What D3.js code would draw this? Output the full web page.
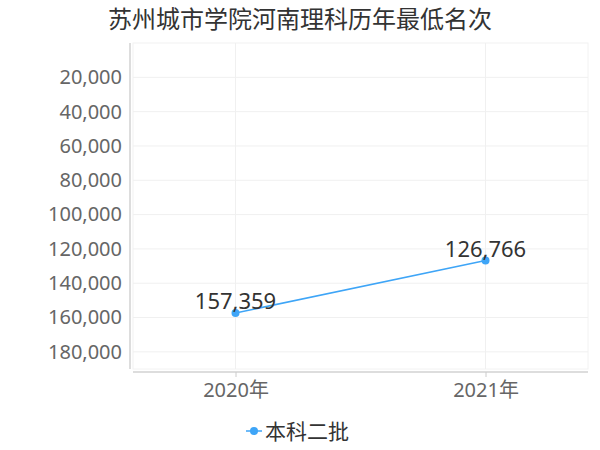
<!DOCTYPE html>
<html>
<head>
<meta charset="utf-8">
<script src="https://cdn.jsdelivr.net/npm/d3@7"></script>
<style>
  body { margin: 0; background: #fff; }
  text { font-family: "Noto Sans", "Noto Sans CJK SC", sans-serif; }
</style>
</head>
<body>
<div id="container"></div>
<script>
// data
const years = ["2020年", "2021年"];
const rank = [157359, 126766];
const seriesName = "本科二批";
const yTicks = [20000, 40000, 60000, 80000, 100000, 120000, 140000, 160000, 180000];

const width = 600;
const height = 450;
const marginTop = 43;
const marginBottom = 81;
const marginLeft = 133;
const marginRight = 12;
const lineColor = "#3ea5f7";

const svg = d3.create("svg")
    .attr("width", width)
    .attr("height", height);

// title
svg.append("text")
    .attr("x", width / 2)
    .attr("y", 28)
    .attr("text-anchor", "middle")
    .style("font-size", "24px")
    .style("font-family", "'Noto Sans CJK SC', sans-serif")
    .attr("fill", "#333")
    .text("苏州城市学院河南理科历年最低名次");

// scales (y inverted: lower rank at top)
const x = d3.scalePoint()
    .domain(years)
    .range([marginLeft, width - marginRight])
    .padding(0.41);

const y = d3.scaleLinear()
    .domain([0, 190000])
    .range([marginTop, height - marginBottom]);

// plot border + grid
svg.append("rect")
    .attr("x", marginLeft)
    .attr("y", marginTop)
    .attr("width", width - marginRight - marginLeft)
    .attr("height", height - marginBottom - marginTop)
    .attr("fill", "none")
    .attr("stroke", "#f2f2f2");

svg.append("g")
    .selectAll("line")
    .data(yTicks)
    .join("line")
    .attr("x1", marginLeft)
    .attr("x2", width - marginRight)
    .attr("y1", d => y(d))
    .attr("y2", d => y(d))
    .attr("stroke", "#f0f0f0");

svg.append("g")
    .selectAll("line")
    .data(years)
    .join("line")
    .attr("x1", d => x(d))
    .attr("x2", d => x(d))
    .attr("y1", marginTop)
    .attr("y2", height - marginBottom)
    .attr("stroke", "#f0f0f0");

// y axis
const yAxis = svg.append("g")
    .attr("transform", `translate(${marginLeft - 3},0)`)
    .call(d3.axisLeft(y).tickValues(yTicks).tickFormat(d3.format(",")).tickSize(0).tickPadding(8));
yAxis.select(".domain").attr("stroke", "#bbb").attr("d", `M0,${marginTop}V${height - marginBottom}`);
yAxis.selectAll("text")
    .attr("fill", "#666")
    .style("font-size", "20px")
    .style("font-family", "'Noto Sans', sans-serif");

// x axis
const xAxis = svg.append("g")
    .attr("transform", `translate(0,${height - marginBottom + 3})`)
    .call(d3.axisBottom(x).tickSize(5).tickPadding(6));
xAxis.select(".domain").attr("stroke", "#bbb").attr("d", `M${marginLeft},0H${width - marginRight}`);
xAxis.selectAll(".tick line").attr("stroke", "#ccc");
xAxis.selectAll("text")
    .attr("fill", "#666")
    .style("font-size", "20px")
    .style("font-family", "'Noto Sans', 'Noto Sans CJK SC', sans-serif");

// line
const pts = years.map((d, i) => ({ year: d, value: rank[i] }));
const line = d3.line()
    .x(d => x(d.year))
    .y(d => y(d.value));

svg.append("path")
    .datum(pts)
    .attr("fill", "none")
    .attr("stroke", lineColor)
    .attr("stroke-width", 1.5)
    .attr("d", line);

svg.append("g")
    .selectAll("circle")
    .data(pts)
    .join("circle")
    .attr("cx", d => x(d.year))
    .attr("cy", d => y(d.value))
    .attr("r", 4)
    .attr("fill", lineColor);

svg.append("g")
    .selectAll("text")
    .data(pts)
    .join("text")
    .attr("x", d => x(d.year))
    .attr("y", d => y(d.value) - 4)
    .attr("text-anchor", "middle")
    .attr("fill", "#333")
    .style("font-size", "22px")
    .text(d => d3.format(",")(d.value));

// legend
const legend = svg.append("g").attr("transform", "translate(246,431)");
legend.append("line")
    .attr("x1", 0).attr("x2", 16)
    .attr("stroke", lineColor).attr("stroke-width", 1.5);
legend.append("circle")
    .attr("cx", 8).attr("r", 4).attr("fill", lineColor);
legend.append("text")
    .attr("x", 19)
    .attr("dy", "0.36em")
    .attr("fill", "#333")
    .style("font-size", "21px")
    .style("font-family", "'Noto Sans CJK SC', sans-serif")
    .text(seriesName);

container.append(svg.node());
</script>
</body>
</html>
